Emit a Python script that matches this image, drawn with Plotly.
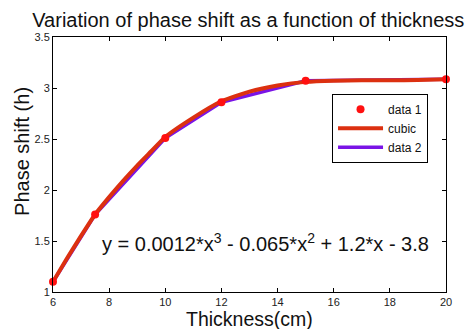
import plotly.graph_objects as go

# data
thickness = [6, 7.5, 10, 12, 15, 20]
phase = [1.10, 1.76, 2.51, 2.86, 3.07, 3.085]

cubic_x = [6, 6.5, 7, 7.5, 8, 8.5, 9, 9.5, 10, 11, 12, 13, 14, 15, 16, 17, 18, 19, 20]
cubic_y = [1.10, 1.33, 1.55, 1.76, 1.93, 2.09, 2.24, 2.38, 2.52, 2.71, 2.87, 2.965, 3.025, 3.06, 3.072, 3.075, 3.076, 3.078, 3.085]

x_ticks = [6, 8, 10, 12, 14, 16, 18, 20]
y_ticks = [1, 1.5, 2, 2.5, 3, 3.5]
y_tick_text = ["1", "1.5", "2", "2.5", "3", "3.5"]

FONT = "Liberation Sans, Arial, sans-serif"

fig = go.Figure()
fig.add_trace(go.Scatter(x=thickness, y=phase, mode="lines", name="data 2",
                         line=dict(color="#7a14e6", width=3.5), legendrank=3))
fig.add_trace(go.Scatter(x=cubic_x, y=cubic_y, mode="lines", name="cubic",
                         line=dict(color="#dc3010", width=4, shape="spline", smoothing=0.5),
                         legendrank=2))
fig.add_trace(go.Scatter(x=thickness, y=phase, mode="markers", name="data 1",
                         marker=dict(color="#ff1010", size=8), cliponaxis=False,
                         legendrank=1))

fig.add_annotation(x=13.57, y=1.49, xref="x", yref="y",
                   text="y = 0.0012*x<sup>3</sup> - 0.065*x<sup>2</sup> + 1.2*x - 3.8",
                   showarrow=False, font=dict(family=FONT, size=20, color="#111"))

# axis titles as annotations for precise placement
fig.add_annotation(x=0.5, y=-0.107, xref="paper", yref="paper",
                   text="Thickness(cm)", showarrow=False, xanchor="center", yanchor="middle",
                   font=dict(family=FONT, size=19.5, color="#111"))
fig.add_annotation(x=-0.0785, y=0.55, xref="paper", yref="paper",
                   text="Phase shift (h)", showarrow=False, textangle=-90,
                   xanchor="center", yanchor="middle",
                   font=dict(family=FONT, size=20, color="#111"))

axis_common = dict(showline=True, linecolor="black", linewidth=1, mirror="ticks",
                   ticks="inside", ticklen=4, tickcolor="black", showgrid=False,
                   zeroline=False, tickfont=dict(family=FONT, size=11, color="#222"))

fig.update_xaxes(range=[6, 20], tickvals=x_ticks, ticklabelstandoff=0, **axis_common)
fig.update_yaxes(range=[1, 3.5], tickvals=y_ticks, ticktext=y_tick_text, **axis_common)

fig.update_layout(
    width=473, height=329,
    margin=dict(l=53, r=27, t=37, b=37),
    paper_bgcolor="white", plot_bgcolor="white",
    title=dict(text="Variation of phase shift as a function of thickness",
               font=dict(family=FONT, size=20, color="#111"),
               x=0.525, xanchor="center", y=0.938, yanchor="middle"),
    legend=dict(x=0.71, y=0.777, xanchor="left", yanchor="top",
                bordercolor="black", borderwidth=1, bgcolor="white",
                font=dict(family=FONT, size=12, color="#111"),
                tracegroupgap=0, itemwidth=45),
    showlegend=True,
)

fig.write_html("out.html")
